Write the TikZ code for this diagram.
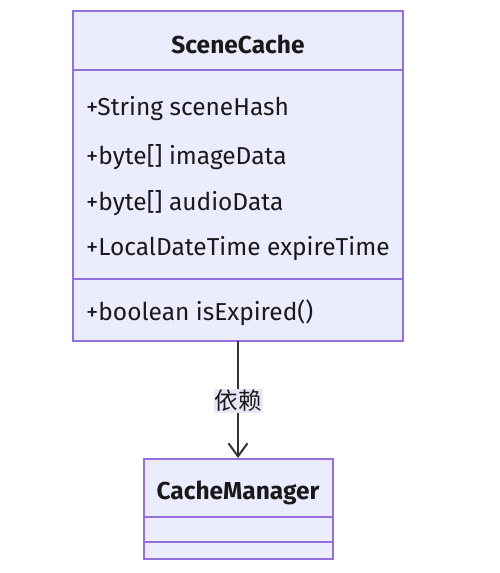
\documentclass[tikz,border=0pt]{standalone}
\usepackage{fontspec}
\setmainfont{Fira Sans}
\newfontfamily\cjk{Noto Sans CJK SC}
\usetikzlibrary{arrows.meta}
\definecolor{boxfill}{HTML}{ECECFF}
\definecolor{boxline}{HTML}{9370DB}
\definecolor{txt}{HTML}{1A1A1A}
\definecolor{edgecol}{HTML}{333333}
\definecolor{lblbg}{HTML}{E8E8F6}
\tikzset{
  classbox/.style={draw=boxline, fill=boxfill, line width=1.3pt},
  divider/.style={draw=boxline, line width=1.3pt},
  member/.style={anchor=west, inner sep=0pt, text=txt, font=\fontsize{24.5}{28}\selectfont},
  ctitle/.style={inner sep=0pt, text=txt, font=\fontsize{24.5}{28}\selectfont\bfseries},
  dep/.style={draw=edgecol, line width=1.8pt, -{Straight Barb[length=13pt,width=19pt,line width=2pt]}},
  lbl/.style={fill=lblbg, inner sep=1pt, text=txt, font=\cjk\fontsize{23.5}{26}\selectfont}
}
\begin{document}
\begin{tikzpicture}[x=1pt,y=-1pt]
\useasboundingbox (0,0) rectangle (500,573);
% SceneCache
\path[classbox] (73,11) rectangle (403,341);
\coordinate (scl) at (73,70); \coordinate (scr) at (403,70);
\coordinate (sml) at (73,279); \coordinate (smr) at (403,279);
\draw[divider] (scl) -- (scr);
\draw[divider] (sml) -- (smr);
\node[ctitle] (sctitle) at (238,44) {SceneCache};
\node[member] (a1) at (86,109) {+String sceneHash};
\node[member] (a2) at (86,157) {+byte[] imageData};
\node[member] (a3) at (86,203) {+byte[] audioData};
\node[member] (a4) at (86,249) {+LocalDateTime expireTime};
\node[member] (m1) at (86,313) {+boolean isExpired()};
% CacheManager
\path[classbox] (144,459) rectangle (333,559);
\coordinate (cml1) at (144,517); \coordinate (cmr1) at (333,517);
\coordinate (cml2) at (144,542); \coordinate (cmr2) at (333,542);
\draw[divider] (cml1) -- (cmr1);
\draw[divider] (cml2) -- (cmr2);
\node[ctitle] (cmtitle) at (238,493) {CacheManager};
% dependency
\coordinate (src) at (238,341);
\coordinate (dst) at (238,458);
\draw[dep] (src) -- (dst);
\node[lbl] (deplbl) at (238,401) {依赖};
\end{tikzpicture}
\end{document}
